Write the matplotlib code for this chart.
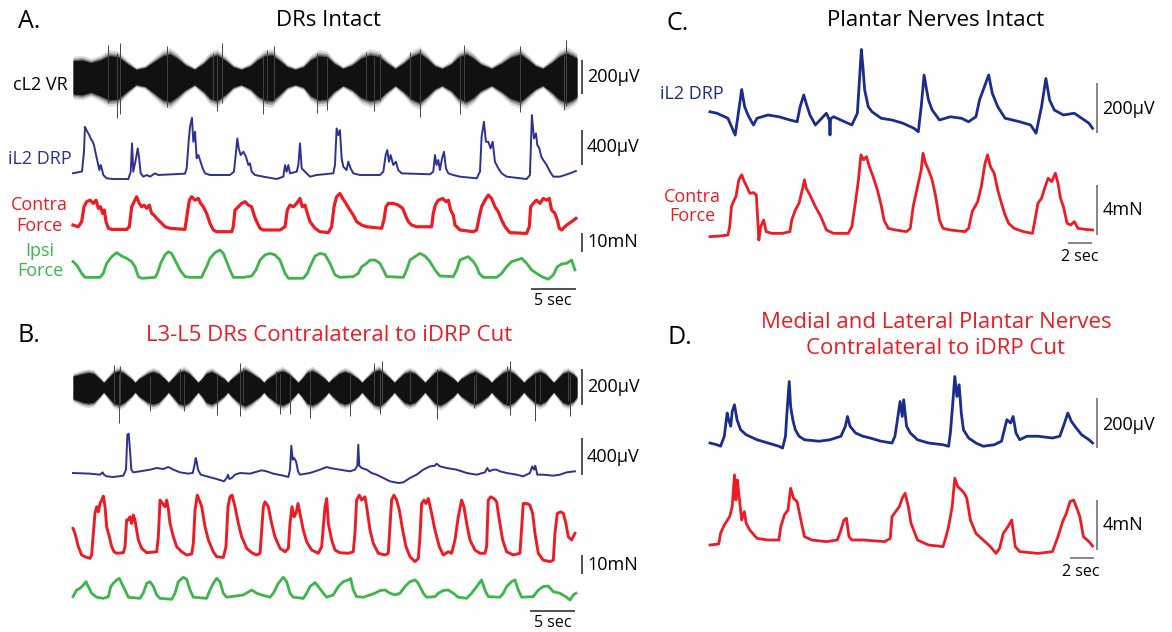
import numpy as np
import matplotlib
matplotlib.use('Agg')
import matplotlib.pyplot as plt

plt.rcParams['font.family'] = ['Open Sans', 'DejaVu Sans']

# ---------------- data (time in s, values in uV or mN) ----------------
# A. DRs intact
vr_a_t = [0, 1, 2, 3, 4, 5, 6, 7, 8, 9, 10, 10.8, 11.6, 12.5, 13.5, 14.5, 15.2, 16, 17, 17.8,
          18.7, 19.7, 20.5, 21.3, 22.1, 23, 23.8, 24.7, 25.6, 26.4, 27.3, 28.2, 29, 30, 31, 32, 33, 34, 34.8, 35.8,
          36.7, 37.6, 38.5, 39.4, 40.2, 41, 42, 42.8, 43.7, 44.5, 45.3, 46.5, 47.6, 48.6, 49.7, 50.6, 51.4, 52.2, 53.2, 54,
          54.8, 55.5, 56]
vr_a_top = [95, 100, 85, 100, 125, 120, 80, 45, 55, 90, 125, 135, 110, 70, 45, 80, 115, 130, 95, 60,
            45, 65, 100, 125, 130, 95, 60, 45, 60, 100, 125, 120, 80, 50, 70, 110, 130, 120, 85, 50,
            80, 120, 140, 105, 65, 50, 75, 115, 135, 110, 75, 50, 80, 115, 135, 100, 65, 50, 85, 120,
            140, 125, 110]
vr_a_bot = [-100, -105, -90, -110, -135, -130, -85, -45, -55, -95, -135, -145, -115, -75, -45, -85, -125, -140, -100, -60,
            -45, -70, -110, -135, -140, -100, -60, -45, -60, -110, -135, -130, -85, -50, -75, -120, -140, -130, -90, -50,
            -85, -130, -150, -110, -70, -50, -80, -125, -145, -120, -80, -50, -85, -125, -145, -105, -70, -50, -90, -130,
            -150, -135, -115]
vr_a_spk_t = [3.9, 4.9, 5.2, 10.4, 15.6, 16.0, 16.5, 21.1, 21.5, 22.3, 27.1, 28.2, 32.6, 33.4, 34.1, 37.4,
              38.5, 43.0, 43.4, 49.7, 54.5, 54.8]
vr_a_spk_hi = [190, 140, 200, 180, 140, 130, 200, 120, 160, 180, 140, 120, 145, 120, 135, 145,
               165, 130, 190, 180, 130, 215]
vr_a_spk_lo = [-150, -240, -220, -175, -130, -200, -150, -220, -150, -140, -210, -195, -130, -200, -140, -130,
               -235, -215, -150, -205, -195, -170]

drp_a = [(0.0, 20), (1.0, 40), (1.22, 266), (1.33, 551), (1.59, 494), (1.81, 456), (1.96, 418), (2.19, 380),
         (2.33, 342), (2.56, 228), (2.81, 114), (2.93, 57), (3.07, 114), (3.19, 76), (3.37, 0), (3.74, -38),
         (4.48, -46), (6.15, -46), (6.41, 38), (6.56, 361), (6.70, 38), (7.0, 190), (7.19, 304), (7.33, 209),
         (7.52, 19), (7.81, -19), (8.19, 0), (8.56, -19), (9.11, 19), (9.48, 0), (12.44, 15), (12.63, 76),
         (12.85, 380), (13.0, 551), (13.22, 654), (13.37, 380), (13.56, 494), (13.74, 190), (13.93, 228),
         (14.11, 171), (14.41, 76), (14.67, 19), (15.22, 0), (17.44, 0), (17.89, 38), (18.11, 266), (18.26, 418),
         (18.41, 304), (18.63, 228), (18.93, 266), (19.22, 209), (19.48, 114), (19.67, 133), (19.85, 38),
         (20.22, 0), (21.15, -19), (22.63, -46), (23.37, -19), (23.56, 114), (23.74, 38), (23.93, 114),
         (24.11, 19), (24.85, 38), (25.04, 114), (25.22, 361), (25.41, 76), (25.59, 57), (25.96, 19),
         (26.33, -19), (27.07, 0), (28.92, 19), (29.11, 114), (29.29, 532), (29.48, 456), (29.66, 513),
         (29.85, 190), (30.03, 95), (30.40, 57), (30.59, 152), (30.85, 76), (31.14, 19), (31.88, 0), (34.11, 0),
         (34.48, 38), (34.74, 228), (34.92, 285), (35.11, 152), (35.29, 228), (35.59, 114), (35.88, 152),
         (36.14, 57), (36.51, 19), (39.66, 8), (40.03, 38), (40.22, 228), (40.40, 114), (40.59, 171), (40.77, 57),
         (41.0, 190), (41.22, 266), (41.44, 76), (41.70, 19), (42.25, 0), (43.0, -19), (44.85, -38), (45.22, 38),
         (45.40, 437), (45.66, 608), (45.88, 380), (46.14, 380), (46.40, 304), (46.63, 380), (46.88, 152),
         (47.26, 76), (47.63, 19), (48.18, -19), (50.40, -46), (50.77, 0), (50.99, 684), (51.22, 418),
         (51.44, 475), (51.59, 342), (51.81, 304), (52.03, 209), (52.25, 171), (52.63, 114), (53.0, 38),
         (53.37, -19), (54.11, -19), (55.22, 19), (55.88, 46)]

contra_a = [(0.0, 3.5), (0.59, 2.6), (0.96, 5.3), (1.22, 13.1), (1.52, 15.8), (1.89, 16.6), (2.26, 14.9),
            (2.56, 16.6), (2.81, 12.3), (3.07, 13.1), (3.30, 9.6), (3.48, 11.4), (3.67, 5.3), (3.93, 1.8),
            (4.30, 1.2), (5.96, 1.2), (6.26, 2.6), (6.52, 13.1), (6.89, 16.6), (7.07, 18.4), (7.37, 14.9),
            (7.63, 13.1), (7.89, 14.0), (8.19, 12.3), (8.48, 14.0), (8.74, 9.6), (9.0, 8.8), (9.30, 7.0),
            (9.67, 5.3), (10.22, 2.6), (10.78, 1.8), (12.44, 1.2), (12.70, 9.6), (12.93, 16.6), (13.19, 18.4),
            (13.56, 16.6), (13.93, 17.5), (14.19, 14.9), (14.48, 13.1), (14.85, 9.6), (15.22, 4.4), (15.59, 0.9),
            (15.96, 0), (17.63, 0), (17.81, 2.6), (18.0, 11.4), (18.37, 13.1), (18.74, 14.9), (19.11, 15.8),
            (19.48, 14.0), (19.85, 13.1), (20.11, 8.8), (20.41, 5.3), (20.78, 1.8), (21.15, 0.9), (23.0, 0.9),
            (23.56, 2.6), (23.81, 11.4), (24.11, 14.0), (24.48, 13.1), (24.85, 14.9), (25.22, 17.5), (25.48, 13.1),
            (25.78, 14.0), (26.04, 9.6), (26.33, 5.3), (26.89, 1.8), (27.44, 0), (28.37, -0.5), (28.74, 2.6),
            (29.0, 13.1), (29.29, 18.4), (29.66, 20.1), (29.96, 17.5), (30.33, 14.9), (30.77, 11.4), (31.14, 8.8),
            (31.51, 5.3), (32.07, 3.5), (32.63, 2.6), (34.29, 1.8), (34.55, 6.1), (34.77, 13.1), (35.03, 14.9),
            (35.59, 14.9), (36.14, 14.0), (36.63, 12.3), (37.0, 7.9), (37.26, 5.3), (37.63, 3.5), (38.18, 2.6),
            (39.85, 2.6), (40.03, 9.6), (40.26, 14.0), (40.59, 16.6), (41.07, 17.5), (41.44, 15.8), (41.70, 16.6),
            (41.96, 11.4), (42.25, 8.8), (42.44, 3.5), (43.0, 0.9), (44.48, 0), (44.85, 0.9), (45.14, 7.9),
            (45.40, 13.1), (45.77, 16.6), (46.14, 19.3), (46.51, 17.5), (46.88, 13.1), (47.26, 10.5), (47.63, 6.1),
            (48.0, 2.6), (48.55, -0.5), (50.40, -0.9), (50.70, 2.6), (50.85, 13.1), (51.14, 14.9), (51.51, 16.6),
            (51.88, 14.9), (52.25, 17.5), (52.63, 16.6), (52.92, 17.5), (53.18, 11.4), (53.55, 9.6), (53.81, 6.1),
            (54.03, 1.8), (54.29, 0.9), (54.85, 3.5), (55.40, 5.3), (55.88, 7.0)]

ipsi_a = [(0.0, 8.8), (0.41, 7.0), (0.96, 2.6), (1.33, 0.5), (3.0, 0.5), (3.37, 2.6), (3.74, 7.9), (4.30, 11.4),
          (4.85, 13.5), (5.41, 11.7), (5.96, 10.5), (6.52, 8.8), (6.89, 6.1), (7.26, 0.9), (7.63, 0), (9.11, 0.5),
          (9.37, 2.6), (9.74, 7.9), (10.22, 12.3), (10.59, 14.0), (10.96, 13.1), (11.33, 9.6), (11.89, 4.4),
          (12.44, 0.9), (13.0, 0.5), (14.30, 0.5), (14.48, 2.6), (14.85, 6.1), (15.22, 10.5), (15.78, 13.5),
          (16.33, 14.9), (16.70, 13.1), (17.07, 8.8), (17.44, 4.4), (17.81, 0.5), (18.93, 0.5), (19.85, 1.2),
          (20.33, 4.4), (20.78, 9.6), (21.33, 12.3), (21.89, 13.1), (22.44, 12.3), (23.0, 9.6), (23.56, 2.6),
          (23.93, 0), (25.59, 0), (26.04, 2.6), (26.33, 6.1), (26.89, 11.7), (27.44, 13.1), (28.0, 12.5),
          (28.55, 7.9), (29.11, 1.8), (29.66, 0.5), (31.14, 0.9), (31.70, 2.6), (32.07, 6.1), (32.63, 7.9),
          (33.0, 9.6), (33.55, 9.6), (34.11, 7.9), (34.48, 4.4), (34.85, 0.9), (36.70, 0.5), (37.07, 4.4),
          (37.44, 9.6), (38.0, 11.4), (38.55, 13.1), (39.11, 11.7), (39.66, 8.8), (40.22, 4.4), (40.77, 1.2),
          (42.25, 0.9), (42.63, 4.4), (43.0, 9.6), (43.44, 10.5), (43.92, 11.4), (44.48, 8.8), (44.85, 6.1),
          (45.14, 2.6), (45.59, 0.5), (47.07, 0.5), (47.63, 2.6), (48.18, 6.1), (48.74, 8.8), (49.29, 9.6),
          (49.85, 10.5), (50.40, 7.9), (50.96, 4.4), (51.51, 2.6), (52.07, 0.9), (52.81, -0.5), (53.37, 1.8),
          (53.81, 6.1), (54.29, 7.5), (54.85, 7.9), (55.40, 9.6), (55.77, 4.4)]

# B. L3-L5 DRs contralateral to iDRP cut -- VR envelope as (t, top, bottom)
vr_b_env = [(0, 60, -65), (1.1, 75, -85), (1.7, 80, -90), (2.3, 75, -85), (3.0, 45, -50), (3.4, 25, -28),
            (3.8, 45, -50), (4.5, 80, -90), (5.1, 90, -100), (5.7, 75, -85), (6.5, 45, -50), (6.9, 25, -28),
            (7.3, 45, -50), (8.3, 75, -85), (8.9, 85, -95), (9.5, 75, -85), (10.2, 45, -50), (10.6, 25, -28),
            (11.0, 45, -50), (11.7, 80, -90), (12.3, 90, -100), (12.9, 75, -85), (13.5, 45, -50), (13.9, 25, -28),
            (14.3, 45, -50), (14.8, 75, -85), (15.4, 85, -95), (16.0, 70, -80), (16.8, 45, -50), (17.2, 25, -28),
            (17.6, 45, -50), (18.5, 80, -90), (19.1, 95, -105), (19.7, 80, -90), (20.8, 45, -50), (21.2, 25, -28),
            (21.6, 45, -50), (22.7, 80, -90), (23.3, 90, -100), (23.9, 75, -85), (24.6, 45, -50), (25.0, 25, -28),
            (25.4, 45, -50), (26.0, 80, -90), (26.6, 90, -100), (27.2, 75, -85), (28.0, 45, -50), (28.4, 25, -28),
            (28.8, 45, -50), (29.6, 75, -85), (30.2, 85, -95), (30.8, 75, -85), (31.7, 45, -50), (32.1, 25, -28),
            (32.5, 45, -50), (33.4, 85, -95), (34.0, 95, -105), (34.6, 75, -85), (35.3, 45, -50), (35.7, 25, -28),
            (36.1, 45, -50), (36.8, 75, -85), (37.4, 85, -95), (38.0, 75, -85), (38.7, 45, -50), (39.1, 25, -28),
            (39.5, 45, -50), (40.2, 80, -90), (40.8, 90, -100), (41.4, 75, -85), (42.3, 45, -50), (42.7, 25, -28),
            (43.1, 45, -50), (44.1, 75, -85), (44.7, 85, -95), (45.3, 70, -80), (46.1, 45, -50), (46.5, 25, -28),
            (46.9, 45, -50), (47.8, 80, -90), (48.4, 90, -100), (49.0, 75, -85), (49.7, 45, -50), (50.1, 25, -28),
            (50.5, 45, -50), (51.3, 75, -85), (51.9, 85, -95), (52.5, 70, -80), (53.0, 45, -50), (53.4, 25, -28),
            (53.8, 45, -50), (54.4, 75, -85), (55.0, 85, -95), (55.6, 70, -80), (56, 50, -55)]
vr_b_spk_t = [4.5, 5.1, 5.2, 8.6, 11.9, 12.3, 16.0, 18.6, 18.9, 22.6, 23.0, 24.1, 26.3, 30.8, 33.4, 34.1,
              34.3, 37.4, 40.4, 44.5, 44.8, 48.2, 48.6, 51.3, 51.9, 55.0, 55.2]
vr_b_spk_hi = [125, 70, 115, 60, 100, 70, 75, 135, 105, 90, 70, 60, 90, 70, 135, 80,
               145, 90, 100, 60, 80, 115, 145, 70, 70, 90, 70]
vr_b_spk_lo = [-100, -200, -90, -135, -80, -135, -155, -160, -90, -80, -150, -150, -170, -160, -90, -150,
               -100, -80, -180, -115, -80, -90, -155, -190, -80, -80, -160]

drp_b = [(0.0, 0), (1.89, -7), (3.0, -18), (3.30, 7), (3.44, -18), (3.74, -36), (4.48, -43), (5.59, -29),
         (5.89, 36), (6.04, 414), (6.19, 425), (6.33, 252), (6.48, 36), (6.70, 7), (7.44, 18), (8.56, 36),
         (9.30, 54), (10.04, 43), (10.59, 65), (11.15, 36), (11.89, 7), (12.81, -7), (13.30, 0), (13.48, 72),
         (13.63, 162), (13.74, 126), (13.89, 36), (14.19, -18), (14.85, -36), (15.96, -65), (16.78, -90),
         (17.07, -54), (17.22, -18), (17.37, -65), (17.63, -54), (18.0, -18), (18.56, 0), (19.67, -7),
         (20.96, 29), (21.52, 18), (22.26, -7), (23.37, -29), (23.93, -43), (24.11, 36), (24.26, 295),
         (24.41, 144), (24.56, 162), (24.78, 126), (25.0, 18), (25.22, -18), (26.33, 0), (27.44, 36),
         (28.19, 65), (28.55, 54), (29.66, 36), (30.77, 18), (31.33, 36), (31.59, 79), (31.70, 306), (31.81, 79),
         (32.07, 54), (32.63, 36), (33.18, 0), (33.74, -18), (34.48, -54), (35.22, -90), (36.14, -108),
         (36.70, -101), (37.44, -54), (38.18, -18), (38.92, 36), (39.66, 72), (40.22, 79), (40.40, 101),
         (40.77, 72), (41.51, 54), (42.63, 36), (43.74, 0), (44.85, -18), (45.77, 7), (46.03, 54), (46.26, 18),
         (46.70, 36), (47.07, 36), (47.44, 18), (48.18, 0), (49.29, -18), (50.03, -36), (50.77, 0), (51.03, 72),
         (51.22, 36), (51.37, 79), (51.59, -18), (52.25, -18), (53.37, -29), (54.11, -18), (54.85, 7), (55.77, 18)]

contra_b = [(0.0, 14.9), (0.22, 12.3), (0.59, 5.3), (0.96, 0.9), (1.33, 0), (1.89, -0.9), (2.07, 0.9), (2.26, 12.3),
            (2.44, 22.8), (2.63, 26.3), (2.81, 23.6), (3.0, 28.0), (3.19, 29.8), (3.37, 31.9), (3.56, 26.3),
            (3.74, 15.8), (4.04, 10.5), (4.30, 5.3), (4.56, 2.6), (4.85, 1.8), (5.59, 2.1), (5.78, 5.3), (5.96, 19.3),
            (6.15, 19.3), (6.33, 21.0), (6.52, 17.5), (6.70, 21.9), (6.89, 19.3), (7.07, 14.0), (7.26, 8.8),
            (7.63, 4.4), (8.19, 2.1), (9.30, 2.6), (9.48, 10.5), (9.67, 29.8), (9.96, 28.0), (10.22, 26.3),
            (10.41, 29.8), (10.59, 25.4), (10.78, 17.5), (11.15, 10.5), (11.52, 5.3), (12.07, 2.6), (12.63, 0.9),
            (13.19, 1.4), (13.37, 7.0), (13.56, 24.5), (13.81, 32.4), (14.11, 28.9), (14.30, 26.3), (14.67, 15.8),
            (15.04, 8.8), (15.59, 2.6), (15.96, 0), (16.70, -0.4), (17.0, 5.3), (17.22, 26.3), (17.44, 31.5),
            (17.67, 32.4), (18.0, 26.3), (18.37, 17.5), (18.74, 10.5), (19.30, 4.4), (19.85, 2.1), (20.41, 0.9),
            (20.78, 1.8), (20.96, 14.0), (21.15, 26.3), (21.33, 28.9), (21.70, 26.3), (22.07, 17.5), (22.44, 10.5),
            (23.0, 4.4), (23.56, 2.6), (23.93, 4.4), (24.11, 17.5), (24.33, 26.3), (24.56, 21.0), (24.78, 22.8),
            (25.0, 28.0), (25.22, 22.8), (25.59, 14.0), (25.96, 7.9), (26.52, 3.5), (27.26, 1.8), (27.63, 5.3),
            (28.0, 26.3), (28.19, 30.6), (28.37, 17.5), (28.74, 8.8), (29.11, 3.5), (29.66, 2.1), (30.59, 1.8),
            (31.14, 2.6), (31.33, 12.3), (31.51, 29.8), (31.81, 32.4), (32.07, 29.8), (32.44, 31.5), (32.63, 26.3),
            (33.0, 14.0), (33.37, 7.0), (33.92, 1.8), (34.66, 0.9), (35.03, 1.8), (35.22, 15.8), (35.40, 29.8),
            (35.66, 32.4), (35.96, 29.8), (36.26, 24.5), (36.63, 14.0), (37.0, 5.3), (37.44, 0), (38.0, -2.6),
            (38.37, -0.9), (38.55, 10.5), (38.74, 28.0), (39.0, 29.8), (39.22, 28.0), (39.48, 30.6), (39.85, 22.8),
            (40.22, 14.0), (40.70, 5.3), (41.14, 0.9), (41.70, 2.6), (42.07, 1.8), (42.44, 8.8), (42.81, 21.0),
            (43.18, 29.8), (43.44, 26.3), (43.74, 17.5), (44.11, 8.8), (44.66, 3.5), (45.22, 1.8), (45.77, 1.8),
            (45.96, 5.3), (46.14, 29.8), (46.40, 31.5), (46.77, 30.6), (47.07, 28.9), (47.37, 19.3), (47.74, 8.8),
            (48.18, 2.6), (48.92, 0.9), (49.66, 1.8), (49.81, 12.3), (50.03, 28.0), (50.40, 28.0), (50.77, 27.1),
            (51.07, 22.8), (51.33, 12.3), (51.70, 1.8), (52.25, -1.8), (53.0, -2.6), (53.37, -1.8), (53.55, 12.3),
            (53.81, 22.8), (54.18, 23.6), (54.48, 22.8), (54.77, 17.5), (55.03, 10.5), (55.40, 8.8), (55.77, 12.3)]

ipsi_b = [(0.0, 1.4), (0.41, 4.9), (0.78, 5.8), (1.15, 7.5), (1.44, 9.3), (1.70, 6.7), (2.07, 3.2), (2.63, 1.1),
          (3.37, 0.5), (3.93, 1.4), (4.19, 6.7), (4.48, 8.4), (4.85, 10.2), (5.15, 11.0), (5.41, 8.4), (5.78, 4.9),
          (6.15, 1.1), (7.44, 0.5), (7.81, 3.2), (8.19, 8.4), (8.56, 9.3), (8.93, 6.7), (9.30, 2.3), (9.67, 0.5),
          (10.96, 0), (11.33, 3.2), (11.70, 9.3), (12.26, 11.6), (12.63, 10.5), (13.0, 4.9), (13.37, 1.1),
          (14.85, 0.5), (15.22, 4.9), (15.59, 8.4), (15.96, 11.0), (16.33, 9.3), (16.70, 3.2), (17.07, 1.1),
          (18.19, 1.8), (18.93, 2.3), (19.85, 4.9), (20.41, 3.2), (20.96, 2.3), (21.89, 1.1), (22.26, 3.2),
          (22.81, 8.4), (23.37, 11.6), (23.74, 9.3), (24.11, 3.2), (24.48, 1.1), (25.59, 0.5), (25.96, 3.2),
          (26.33, 6.7), (26.89, 8.8), (27.26, 6.7), (27.81, 3.2), (28.19, 1.1), (28.92, 2.3), (29.48, 6.7),
          (30.03, 9.3), (30.59, 10.2), (30.85, 11.0), (31.14, 4.9), (31.51, 1.4), (32.26, 1.1), (33.0, 2.3),
          (33.55, 3.2), (34.11, 4.6), (34.66, 4.9), (35.22, 3.2), (35.77, 2.3), (36.33, 3.2), (36.88, 6.7),
          (37.44, 9.3), (38.0, 10.2), (38.37, 8.4), (38.92, 3.2), (39.29, 1.1), (40.22, 1.4), (40.59, 3.2),
          (41.14, 4.6), (41.70, 4.9), (42.25, 3.2), (42.81, 1.1), (43.74, 0.5), (44.29, 3.2), (44.85, 6.7),
          (45.40, 10.2), (45.77, 4.9), (46.14, 1.4), (47.44, 1.1), (47.81, 3.2), (48.18, 6.7), (48.74, 9.3),
          (49.11, 10.2), (49.48, 4.9), (49.85, 1.1), (51.14, 1.4), (51.70, 4.9), (52.25, 6.7), (52.81, 7.0),
          (53.37, 4.0), (54.11, 3.2), (54.85, 1.1), (55.22, -0.4), (55.59, 2.3), (55.88, 3.2)]

# C. Plantar nerves intact
drp_c = [(0.0, 53), (0.58, 47), (1.49, 27), (2.10, -40), (2.40, 60), (2.64, 142), (2.89, 73), (3.16, 40),
         (3.62, 0), (3.92, 27), (4.83, 40), (5.74, 33), (6.66, 20), (7.26, 13), (7.51, 73), (7.81, 120),
         (8.02, 86), (8.33, 40), (8.78, 0), (9.70, 47), (9.95, 20), (10.0, -40), (10.05, 25), (10.30, 33),
         (11.22, 13), (11.82, 0), (12.28, 47), (12.49, 206), (12.61, 302), (12.74, 233), (12.89, 140),
         (13.19, 73), (13.50, 53), (14.26, 27), (15.17, 20), (16.08, 7), (16.99, -13), (17.36, -27), (17.60, 73),
         (17.84, 200), (18.05, 140), (18.21, 100), (18.51, 60), (19.12, 20), (20.03, 33), (20.94, 27),
         (21.55, 13), (22.16, 33), (22.46, 100), (22.92, 160), (23.22, 200), (23.53, 126), (23.98, 73),
         (24.59, 27), (25.81, 13), (26.72, 0), (27.17, -33), (27.63, 73), (27.99, 186), (28.30, 100),
         (28.69, 60), (29.45, 40), (30.36, 47), (30.97, 27), (31.58, 7), (31.88, -13)]

contra_c = [(0.0, -0.13), (0.88, -0.08), (1.49, 0), (1.64, 0.67), (1.79, 2.27), (1.95, 2.67), (2.16, 3.07),
            (2.40, 4.41), (2.64, 4.81), (2.86, 4.27), (3.07, 3.87), (3.31, 3.34), (3.62, 3.39), (3.86, 3.20),
            (3.98, 1.20), (4.07, -0.40), (4.22, 0.67), (4.47, 1.20), (4.68, 0.27), (5.14, 0.13), (6.05, 0.13),
            (6.66, 0.27), (6.81, 1.20), (7.11, 2.0), (7.42, 2.54), (7.72, 3.74), (7.87, 4.41), (8.02, 3.74),
            (8.33, 3.20), (8.78, 2.27), (9.24, 1.47), (9.70, 0.40), (10.30, 0.13), (11.52, 0.13), (11.82, 0.67),
            (12.13, 2.67), (12.37, 4.41), (12.58, 6.41), (12.80, 6.01), (13.04, 6.27), (13.28, 5.47), (13.59, 4.67),
            (13.95, 3.60), (14.26, 2.40), (14.50, 1.20), (14.86, 0.53), (15.47, 0.40), (16.38, 0.27), (16.69, 0.53),
            (16.93, 2.27), (17.23, 3.60), (17.60, 5.21), (17.75, 6.54), (17.96, 5.74), (18.21, 5.21), (18.51, 4.41),
            (18.81, 3.07), (19.12, 1.20), (19.42, 0.53), (20.03, 0.40), (21.25, 0.27), (21.55, 0.53), (21.85, 1.87),
            (22.31, 2.67), (22.61, 3.87), (22.92, 5.74), (23.13, 6.41), (23.37, 5.47), (23.68, 4.94), (23.98, 3.60),
            (24.29, 2.54), (24.59, 1.60), (24.89, 0.93), (25.35, 0.53), (26.11, 0.27), (26.87, 0.13), (27.08, 1.20),
            (27.33, 2.54), (27.63, 2.94), (27.93, 3.87), (28.18, 4.54), (28.48, 4.27), (28.78, 4.94), (29.0, 4.14),
            (29.21, 2.94), (29.45, 2.27), (29.76, 0.93), (30.06, 0.80), (30.36, 1.07), (30.67, 0.53), (31.28, 0.45),
            (31.88, 0.40)]

# D. Medial and lateral plantar nerves contralateral to iDRP cut
drp_d = [(0.0, 0), (0.58, -7), (0.88, -13), (1.19, 27), (1.43, 120), (1.55, 93), (1.73, 67), (1.85, 126),
         (2.04, 153), (2.25, 93), (2.55, 53), (3.01, 33), (3.92, 13), (4.83, 0), (5.74, -13), (6.05, -20),
         (6.29, 27), (6.41, 120), (6.60, 246), (6.72, 146), (6.90, 93), (7.11, 53), (7.42, 27), (7.87, 13),
         (9.09, 7), (10.0, 13), (10.91, 27), (11.28, 67), (11.46, 106), (11.67, 67), (12.13, 40), (12.74, 27),
         (13.34, 20), (14.26, 7), (15.17, 0), (15.41, 27), (15.62, 93), (15.84, 166), (16.02, 106), (16.14, 173),
         (16.38, 67), (16.69, 40), (17.29, 13), (18.21, 0), (19.42, -7), (19.88, -13), (20.03, 40), (20.21, 146),
         (20.40, 266), (20.58, 186), (20.76, 233), (20.94, 120), (21.12, 53), (21.55, 20), (22.16, 0),
         (22.77, -13), (23.68, -7), (24.29, 7), (24.53, 53), (24.74, 93), (25.05, 80), (25.26, 106), (25.50, 40),
         (25.81, 13), (26.41, 27), (27.33, 27), (28.54, 20), (29.15, 27), (29.45, 67), (29.82, 120), (30.12, 86),
         (30.52, 60), (30.97, 33), (31.58, 13), (31.88, 0)]

contra_d = [(0.0, 0.08), (0.73, 0.16), (0.88, 1.01), (1.19, 1.68), (1.64, 2.35), (1.85, 3.15), (2.04, 5.69),
            (2.16, 3.68), (2.28, 5.29), (2.40, 4.22), (2.64, 2.08), (2.86, 2.75), (3.01, 1.82), (3.31, 1.28),
            (3.92, 0.61), (4.83, 0.48), (5.74, 0.48), (5.90, 1.55), (6.20, 2.48), (6.50, 2.88), (6.72, 4.62),
            (6.96, 3.82), (7.26, 3.55), (7.57, 2.08), (7.87, 0.75), (8.48, 0.48), (9.70, 0.35), (10.61, 0.48),
            (10.91, 1.28), (11.16, 2.08), (11.37, 2.22), (11.58, 0.75), (11.82, 0.48), (12.74, 0.48), (14.56, 0.35),
            (15.02, 0.61), (15.17, 2.35), (15.47, 2.75), (15.78, 3.15), (16.02, 3.82), (16.26, 4.22), (16.53, 3.15),
            (16.75, 1.82), (17.29, 0.48), (18.21, 0.08), (19.42, -0.05), (19.67, 0.75), (19.88, 1.55), (20.18, 3.15),
            (20.40, 5.42), (20.64, 4.75), (20.94, 4.49), (21.19, 4.22), (21.40, 3.82), (21.70, 2.08), (22.16, 1.01),
            (22.77, 0.48), (23.37, -0.05), (23.83, -0.59), (24.13, -0.19), (24.44, 1.01), (24.83, 1.55),
            (25.14, 2.08), (25.44, -0.05), (25.81, -0.45), (27.33, -0.59), (28.54, -0.45), (29.0, 0.75),
            (29.39, 1.95), (29.70, 2.62), (30.0, 3.55), (30.30, 3.68), (30.52, 3.15), (30.82, 2.35), (31.12, 0.75),
            (31.58, 0.35), (31.88, 0)]

# ---------------- styling ----------------
NAVY = '#2e3192'
NAVY2 = '#1b2d8c'
RED = '#ed1c24'
GREEN = '#3cb54a'
BAR_AB = '#222222'
BAR_CD = '#666666'

W, H = 1172, 632
fig = plt.figure(figsize=(W / 100, H / 100), dpi=100)
fig.patch.set_facecolor('white')


def trace_ax(x0, y0, sx, sy, t_end, lo, hi):
    # t=0 sits at pixel x0, value 0 at pixel y0 (measured from the top)
    ax = fig.add_axes([x0 / W, 1 - (y0 - lo * sy) / H, sx * t_end / W, (hi - lo) * sy / H])
    ax.set_xlim(0, t_end)
    ax.set_ylim(lo, hi)
    ax.axis('off')
    ax.patch.set_alpha(0)
    return ax


def draw(ax, pts, color, lw):
    a = np.array(pts, dtype=float)
    ax.plot(a[:, 0], a[:, 1], color=color, lw=lw, clip_on=False, solid_joinstyle='round')


def draw_vr(ax, t, top, bot, spk_t, spk_hi, spk_lo):
    t = np.array(t, dtype=float)
    top = np.array(top, dtype=float)
    bot = np.array(bot, dtype=float)
    # soft fringe, then the dense core, then the tallest spikes
    for k, a in [(1.28, 0.18), (1.16, 0.35), (1.07, 0.6)]:
        ax.fill_between(t, top * k, bot * k, color='#333333', alpha=a, lw=0, clip_on=False)
    ax.fill_between(t, top, bot, color='#111111', lw=0, clip_on=False)
    ax.vlines(spk_t, spk_lo, spk_hi, color='#444444', lw=0.7, clip_on=False)


def vbar(ax, t, v0, v1, color):
    ax.plot([t, t], [v0, v1], color=color, lw=1.1, clip_on=False, solid_capstyle='butt')


def hbar(ax, t0, t1, v, color):
    ax.plot([t0, t1], [v, v], color=color, lw=1.1, clip_on=False, solid_capstyle='butt')


def txt(x, y, s, size, color='black', ha='left'):
    fig.text(x / W, 1 - y / H, s, fontsize=size, color=color, ha=ha, va='center')


# ---------------- panel A ----------------
ax = trace_ax(73, 77, 9, 0.17, 56, -300, 300)
draw_vr(ax, vr_a_t, vr_a_top, vr_a_bot, vr_a_spk_t, vr_a_spk_hi, vr_a_spk_lo)
vbar(ax, 56.56, -100, 100, BAR_AB)

ax = trace_ax(73, 175, 9, 0.0875, 56, -100, 800)
draw(ax, drp_a, NAVY, 1.4)
vbar(ax, 56.56, 115, 515, BAR_AB)

ax = trace_ax(73, 231.7, 9, 1.9, 56, -12, 25)
draw(ax, contra_a, RED, 2.3)
vbar(ax, 56.56, -0.7, -10.7, BAR_AB)

ax = trace_ax(73, 278.3, 9, 1.9, 56, -8, 18)
draw(ax, ipsi_a, GREEN, 2.0)
hbar(ax, 50.9, 55.9, -5.6, BAR_AB)

txt(18, 22, 'A.', 18)
txt(328, 21, 'DRs Intact', 16, ha='center')
txt(68, 85, 'cL2 VR', 13, ha='right')
txt(72, 159, 'iL2 DRP', 13, NAVY, ha='right')
txt(39, 205, 'Contra', 13, RED, ha='center')
txt(39, 226, 'Force', 13, RED, ha='center')
txt(40, 251, 'Ipsi', 13, GREEN, ha='center')
txt(40, 271, 'Force', 13, GREEN, ha='center')
txt(587, 77, '200µV', 13)
txt(587, 147, '400µV', 13)
txt(587, 242, '10mN', 13)
txt(553, 301, '5 sec', 11.5, ha='center')

# ---------------- panel B ----------------
env_b = np.array(vr_b_env, dtype=float)
ax = trace_ax(73, 387, 9, 0.18, 56, -300, 300)
draw_vr(ax, env_b[:, 0], env_b[:, 1], env_b[:, 2], vr_b_spk_t, vr_b_spk_hi, vr_b_spk_lo)
vbar(ax, 56.56, -100, 100, BAR_AB)

ax = trace_ax(73, 473, 9, 0.0925, 56, -150, 500)
draw(ax, drp_b, NAVY, 1.4)
vbar(ax, 56.56, -20, 380, BAR_AB)

ax = trace_ax(73, 556.7, 9, 1.9, 56, -12, 35)
draw(ax, contra_b, RED, 2.1)
vbar(ax, 56.56, 0.9, -9.1, BAR_AB)

ax = trace_ax(73, 599.3, 9, 1.9, 56, -8, 14)
draw(ax, ipsi_b, GREEN, 2.0)
hbar(ax, 50.8, 55.8, -6.2, BAR_AB)

txt(17, 336, 'B.', 18)
txt(329, 335, 'L3-L5 DRs Contralateral to iDRP Cut', 16, RED, ha='center')
txt(587, 387, '200µV', 13)
txt(587, 457, '400µV', 13)
txt(587, 565, '10mN', 13)
txt(553, 623, '5 sec', 11.5, ha='center')

# ---------------- panel C ----------------
ax = trace_ax(710, 125, 12, 0.25, 32, -80, 320)
draw(ax, drp_c, NAVY2, 2.0)
vbar(ax, 32.25, -32, 168, BAR_CD)

ax = trace_ax(710, 235, 12, 12.5, 32, -1, 7)
draw(ax, contra_c, RED, 2.0)
vbar(ax, 32.25, 0, 4, BAR_CD)
hbar(ax, 29.8, 31.8, -0.64, BAR_CD)

txt(667, 23, 'C.', 18)
txt(936, 21, 'Plantar Nerves Intact', 16, ha='center')
txt(724, 94, 'iL2 DRP', 13, NAVY2, ha='right')
txt(692, 197, 'Contra', 13, RED, ha='center')
txt(692, 216, 'Force', 13, RED, ha='center')
txt(1102, 109, '200µV', 13)
txt(1103, 210, '4mN', 13)
txt(1080, 257, '2 sec', 11.5, ha='center')

# ---------------- panel D ----------------
ax = trace_ax(710, 443, 12, 0.25, 32, -80, 300)
draw(ax, drp_d, NAVY2, 2.0)
vbar(ax, 32.25, -20, 180, BAR_CD)

ax = trace_ax(710, 546, 12, 12.5, 32, -1, 6)
draw(ax, contra_d, RED, 2.0)
vbar(ax, 32.25, -0.32, 3.68, BAR_CD)
hbar(ax, 30.0, 32.0, -0.96, BAR_CD)

txt(667, 338, 'D.', 18)
txt(936, 323, 'Medial and Lateral Plantar Nerves', 16, RED, ha='center')
txt(936, 348, 'Contralateral to iDRP Cut', 16, RED, ha='center')
txt(1102, 425, '200µV', 13)
txt(1103, 525, '4mN', 13)
txt(1081, 572, '2 sec', 11.5, ha='center')

fig.savefig('out.png', dpi=100, facecolor='white')
